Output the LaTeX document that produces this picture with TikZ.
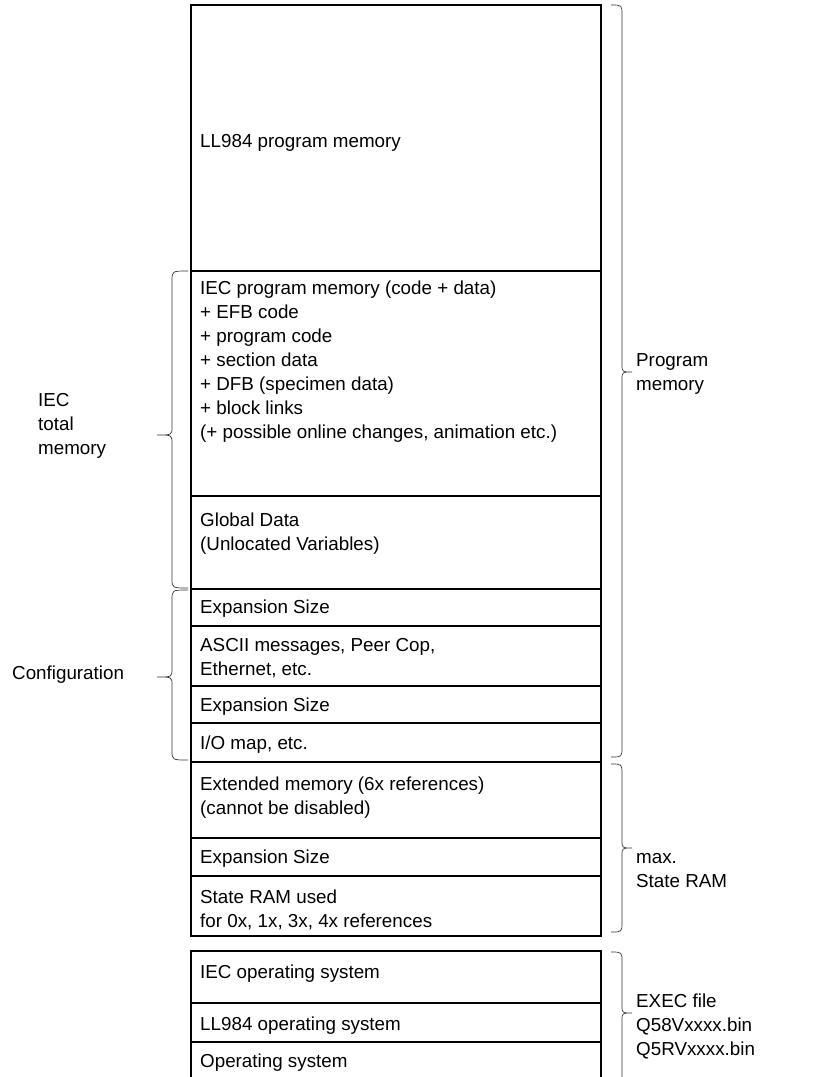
\documentclass[tikz,border=0pt]{standalone}
\usepackage{fontspec}
\setmainfont{Liberation Sans}
\newcommand{\mlines}[1]{\begin{tabular}[t]{@{}l@{}}#1\end{tabular}}
\begin{document}
\begin{tikzpicture}[x=1pt,y=-1pt,
  box/.style={line width=1.6pt},
  txt/.style={anchor=base west,inner sep=0pt,font=\fontsize{18.8}{24}\selectfont},
  brc/.style={line width=0.7pt,black!80}]
\useasboundingbox (0,0) rectangle (829,1077);
% main memory block
\draw[box] (191,5) rectangle (601,936);
\foreach \y in {271,496,589,626,686,723,762,838,876}{\draw[box] (191,\y) -- (601,\y);}
% lower block
\draw[box] (191,1077) -- (191,951) -- (601,951) -- (601,1077);
\foreach \y in {1003,1042}{\draw[box] (191,\y) -- (601,\y);}
% texts in boxes
\node[txt] (ll) at (200,147) {LL984 program memory};
\node[txt] (iec) at (200,294) {\mlines{IEC program memory (code + data)\\+ EFB code\\+ program code\\+ section data\\+ DFB (specimen data)\\+ block links\\(+ possible online changes, animation etc.)}};
\node[txt] (glob) at (200,526) {\mlines{Global Data\\(Unlocated Variables)}};
\node[txt] (exp1) at (200,613) {Expansion Size};
\node[txt] (ascii) at (200,651) {\mlines{ASCII messages, Peer Cop,\\Ethernet, etc.}};
\node[txt] (exp2) at (200,711) {Expansion Size};
\node[txt] (io) at (200,749) {I/O map, etc.};
\node[txt] (ext) at (200,790) {\mlines{Extended memory (6x references)\\(cannot be disabled)}};
\node[txt] (exp3) at (200,863) {Expansion Size};
\node[txt] (sram) at (200,903) {\mlines{State RAM used\\for 0x, 1x, 3x, 4x references}};
\node[txt] (iecos) at (200,978) {IEC operating system};
\node[txt] (llos) at (200,1030) {LL984 operating system};
\node[txt] (os) at (200,1067) {Operating system};
% side labels
\node[txt] (lbl1) at (38,406) {\mlines{IEC\\total\\memory}};
\node[txt] (lbl2) at (12,679) {Configuration};
\node[txt] (lbl3) at (636,366) {\mlines{Program\\memory}};
\node[txt] (lbl4) at (636,863) {\mlines{max.\\State RAM}};
\node[txt] (lbl5) at (636,1007) {\mlines{EXEC file\\Q58Vxxxx.bin\\Q5RVxxxx.bin}};
% left braces
\def\lbrace#1#2#3{\draw[brc] (188,#1) .. controls (172,#1) .. (172,#1+10) -- (172,#3-8) .. controls (172,#3) .. (157,#3) .. controls (172,#3) .. (172,#3+8) -- (172,#2-10) .. controls (172,#2) .. (188,#2);}
\lbrace{271}{588}{435}
\lbrace{590}{760}{677}
% right braces
\def\rbrace#1#2#3{\draw[brc] (611,#1) .. controls (622,#1) .. (622,#1+10) -- (622,#3-8) .. controls (622,#3) .. (632,#3) .. controls (622,#3) .. (622,#3+8) -- (622,#2-10) .. controls (622,#2) .. (611,#2);}
\rbrace{5}{757}{372}
\rbrace{764}{932}{848}
\draw[brc] (611,952) .. controls (622,952) .. (622,962) -- (622,1005) .. controls (622,1013) .. (632,1013) .. controls (622,1013) .. (622,1021) -- (622,1077);
\end{tikzpicture}
\end{document}
